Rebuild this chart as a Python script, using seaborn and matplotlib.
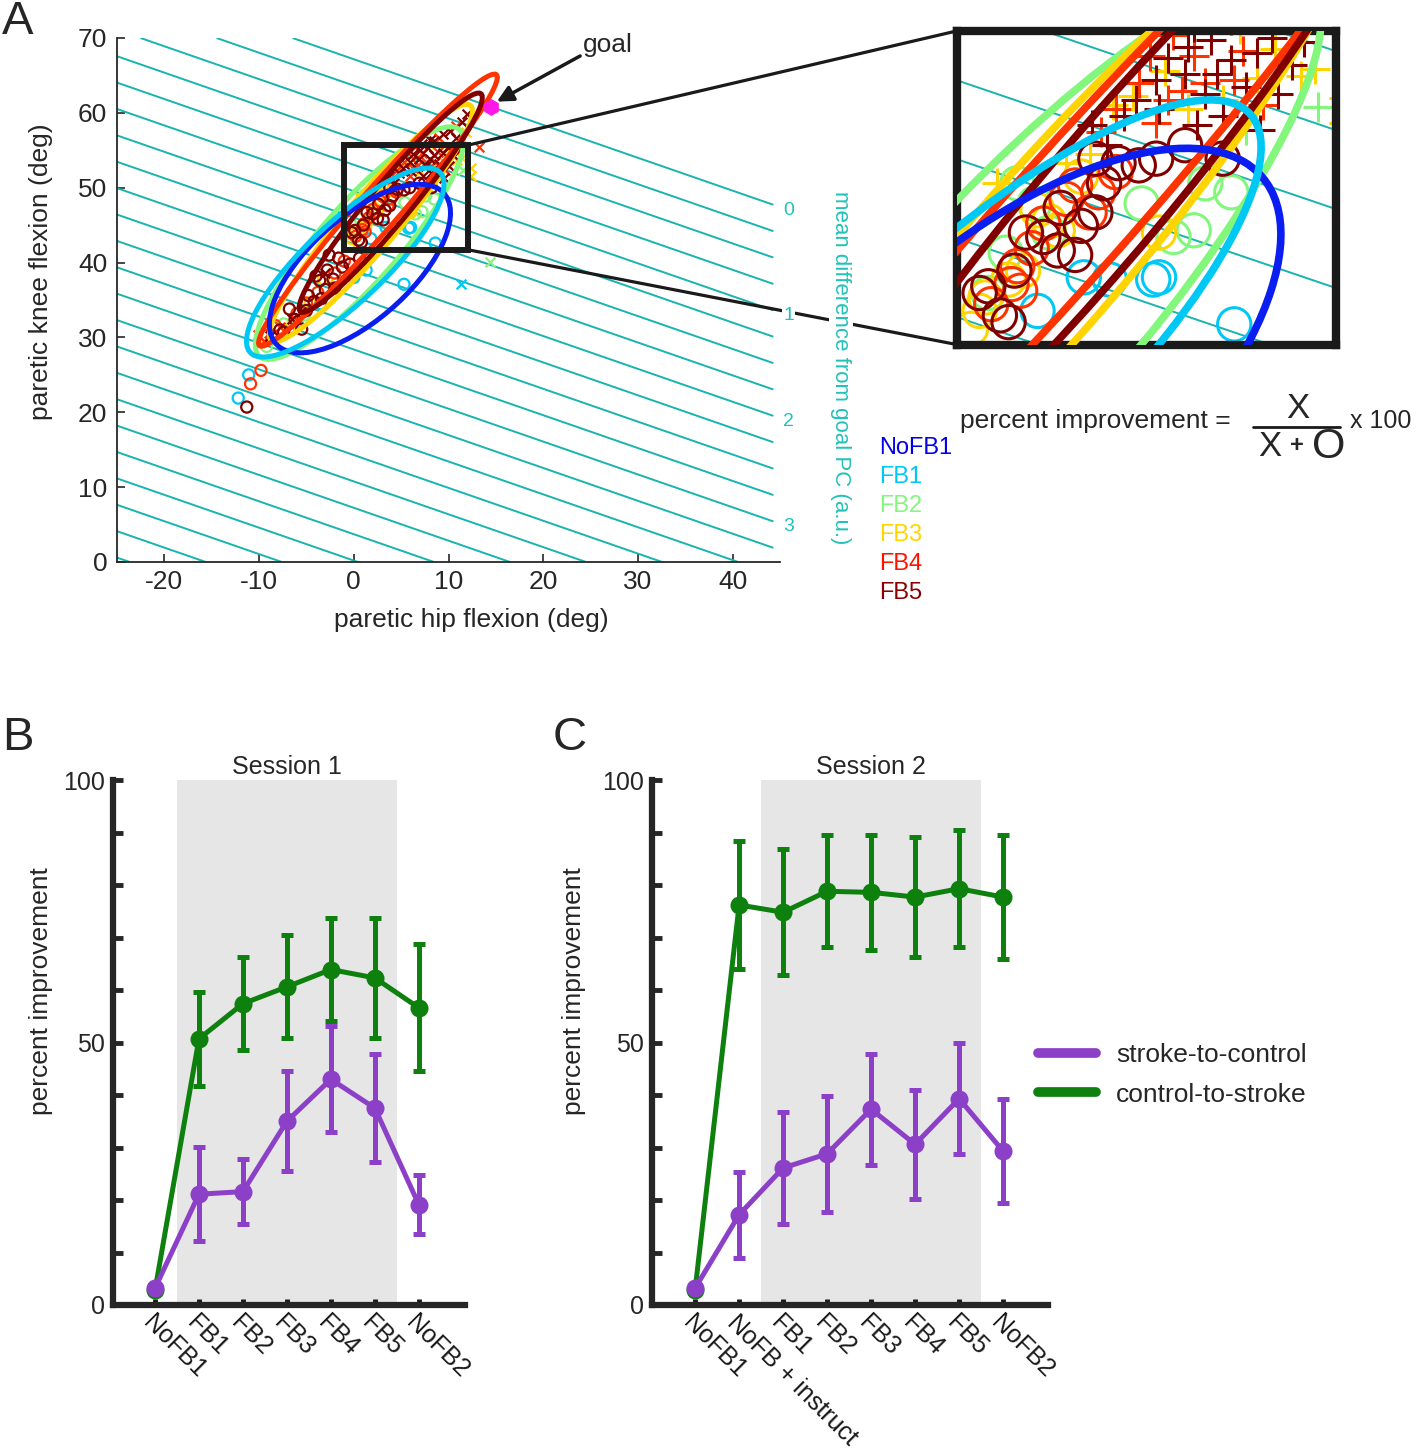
import numpy as np
import matplotlib
matplotlib.use("Agg")
import matplotlib.pyplot as plt
import seaborn as sns
from matplotlib.patches import Ellipse, Rectangle, ConnectionPatch
from matplotlib.lines import Line2D

# ---------------- Panel A data ----------------
cond_names = ['NoFB1', 'FB1', 'FB2', 'FB3', 'FB4', 'FB5']
cond_colors = ['#0A1EF2', '#00C8F5', '#82F77C', '#FFD400', '#FF3300', '#800000']
label_colors = ['#0000EE', '#00C8F5', '#82F77C', '#FFD400', '#FF1100', '#8B0000']

# covariance ellipses (hip, knee) per condition
ell_cx = [0.65, -0.9, 0.6, 1.8, 2.55, 3.9]
ell_cy = [39.2, 40.0, 42.6, 45.3, 47.0, 48.0]
ell_a = [13.5, 15.7, 18.5, 18.9, 22.0, 17.4]
ell_b = [6.0, 4.65, 4.5, 3.0, 2.3, 2.3]
ell_ang = [52, 51.5, 56, 56.5, 55.5, 57]

# O = missed steps, X = successful steps (hip, knee)
fails_nofb1 = []
hits_nofb1 = []
fails_fb1 = [(-12.2, 21.9), (-11.1, 25.0), (5.3, 37.1), (1.3, 39.0), (5.8, 44.6),
             (8.6, 42.6), (6.0, 44.7), (3.4, 44.7), (1.8, 43.2), (4.3, 44.6),
             (-6.0, 32.0), (-3.5, 34.5), (0.0, 38.0)]
hits_fb1 = [(11.3, 37.1)]
fails_fb2 = [(7.2, 46.8), (7.6, 48.9), (8.5, 48.5), (1.1, 48.9), (1.7, 48.0),
             (6.5, 46.5), (0.7, 45.8), (0.1, 44.0), (2.2, 46.7), (5.4, 48.0),
             (-7.4, 31.8), (-9.2, 28.8), (-5.2, 33.0)]
hits_fb2 = [(14.4, 40.1), (11.5, 52.3), (9.0, 51.3)]
fails_fb3 = [(-0.2, 43.2), (3.3, 49.2), (1.8, 47.7), (0.0, 43.8), (2.5, 46.8),
             (1.3, 45.0), (-6.8, 31.2), (-4.6, 34.6), (-1.8, 37.2), (6.0, 46.7),
             (0.8, 44.6), (2.2, 47.2), (-0.5, 42.4), (-3.2, 37.8)]
hits_fb3 = [(5.1, 52.8), (8.8, 55.8), (10.9, 53.7), (11.4, 54.0), (7.0, 52.2),
            (10.0, 54.9), (0.4, 48.9), (12.4, 52.7), (12.4, 51.6), (11.8, 57.4),
            (3.6, 50.2), (4.4, 52.4), (6.2, 53.9), (8.2, 52.6), (9.4, 53.6),
            (2.8, 49.8)]
fails_fb4 = [(1.1, 45.2), (2.0, 47.1), (3.1, 48.8), (4.5, 49.4), (0.2, 43.5),
             (1.2, 44.1), (3.9, 48.5), (-10.9, 23.8), (-9.8, 25.6), (-6.0, 33.2),
             (-3.8, 36.0), (-2.0, 38.6), (-8.3, 31.6), (1.6, 46.0), (2.8, 48.2),
             (0.9, 44.4), (3.6, 47.6), (-5.0, 34.6), (-1.0, 40.2)]
hits_fb4 = [(6.5, 55.5), (7.2, 54.6), (6.3, 52.6), (5.3, 53.4), (8.6, 53.5),
            (4.5, 52.2), (5.9, 51.6), (13.2, 55.5), (-9.5, 29.5), (-9.0, 30.6),
            (-8.6, 29.6), (-10.1, 30.3), (-7.8, 31.4), (9.0, 56.6), (10.8, 58.2),
            (5.7, 54.6), (7.6, 53.4), (8.9, 54.8), (4.0, 51.2), (6.8, 53.0),
            (9.6, 52.4)]
fails_fb5 = [(-0.2, 44.0), (0.8, 42.7), (1.4, 46.7), (2.0, 46.5), (3.1, 45.7),
             (3.8, 47.6), (3.8, 50.0), (4.6, 49.8), (5.3, 49.7), (5.9, 50.0),
             (6.9, 50.6), (8.2, 50.0), (4.1, 48.9), (2.5, 45.9), (0.1, 44.3),
             (-11.3, 20.7), (-7.4, 30.7), (-5.5, 31.1), (-4.2, 34.8), (-3.0, 36.4),
             (-2.2, 37.8), (-1.2, 39.4), (-3.6, 37.6), (-5.0, 33.6), (-2.8, 39.0),
             (1.0, 45.0), (2.6, 47.8), (3.3, 47.0), (0.5, 43.0), (-6.2, 32.4),
             (-4.8, 35.6), (-3.4, 35.2), (-2.0, 36.6), (-1.6, 40.6), (-0.4, 39.8),
             (-6.8, 33.8), (-7.8, 31.0), (-4.0, 38.2), (-2.6, 41.0), (0.6, 40.6)]
hits_fb5 = [(7.8, 55.3), (8.5, 54.4), (9.4, 54.7), (6.9, 53.8), (7.6, 52.9),
            (8.2, 51.9), (9.5, 51.3), (10.1, 52.9), (4.8, 51.9), (5.9, 53.5),
            (3.7, 51.5), (9.9, 55.4), (8.5, 56.2), (9.4, 57.2), (10.2, 57.6),
            (11.4, 58.8), (7.2, 55.9), (-8.8, 30.2), (-6.5, 32.5), (5.2, 52.6),
            (6.3, 54.5), (7.0, 55.0), (8.0, 53.8), (9.0, 53.2), (10.6, 54.2),
            (11.0, 55.2), (6.0, 52.2), (4.2, 50.6), (7.3, 51.5), (12.0, 59.8),
            (10.8, 56.6), (8.0, 56.4), (-5.6, 33.4), (-3.0, 38.6)]

fails_all = [fails_nofb1, fails_fb1, fails_fb2, fails_fb3, fails_fb4, fails_fb5]
hits_all = [hits_nofb1, hits_fb1, hits_fb2, hits_fb3, hits_fb4, hits_fb5]

goal_hip, goal_knee = 14.5, 60.8
pc_slope = 0.439     # knee deg per hip deg along an iso-PC line
pc_unit = 14.1       # knee deg per 1 a.u.
pc_levels = np.arange(0, 5.76, 0.25)
pc_labels = [0, 1, 2, 3]

# ---------------- Panels B / C data ----------------
s1_labels = ['NoFB1', 'FB1', 'FB2', 'FB3', 'FB4', 'FB5', 'NoFB2']
s1_stc = [3.2, 21.1, 21.6, 35.0, 43.0, 37.5, 19.1]
s1_stc_err = [0, 9.0, 6.2, 9.5, 10.1, 10.3, 5.6]
s1_cts = [2.8, 50.7, 57.4, 60.6, 63.9, 62.3, 56.6]
s1_cts_err = [0, 8.9, 8.8, 9.8, 9.8, 11.5, 12.1]

s2_labels = ['NoFB1', 'NoFB + instruct', 'FB1', 'FB2', 'FB3', 'FB4', 'FB5', 'NoFB2']
s2_stc = [3.2, 17.2, 26.1, 28.8, 37.3, 30.6, 39.3, 29.3]
s2_stc_err = [0, 8.2, 10.6, 11.0, 10.6, 10.4, 10.6, 9.9]
s2_cts = [2.9, 76.2, 74.8, 78.8, 78.6, 77.7, 79.3, 77.7]
s2_cts_err = [0, 12.2, 12.0, 10.7, 11.0, 11.5, 11.2, 11.8]

TEAL = '#19B4AE'
TEAL_TXT = '#22C2B8'
PURPLE = '#8C40C8'
GREEN = '#0E800E'
DARK = '#262626'

sns.set_theme(style='ticks')
plt.rcParams['font.family'] = ['Liberation Sans', 'DejaVu Sans']
plt.rcParams['axes.unicode_minus'] = False

W, H = 1418, 1455
fig = plt.figure(figsize=(W / 100, H / 100), dpi=100)


def px_rect(x0, y0, x1, y1):
    """Figure-fraction rect from pixel box (top-left origin)."""
    return [x0 / W, 1 - y1 / H, (x1 - x0) / W, (y1 - y0) / H]


def draw_contours(ax, hip_lim, knee_lim, lw):
    hh, kk = np.meshgrid(np.linspace(*hip_lim, 400), np.linspace(*knee_lim, 400))
    pc = (goal_knee - pc_slope * (hh - goal_hip) - kk) / pc_unit
    ax.contour(hh, kk, pc, levels=pc_levels, colors=TEAL, linewidths=lw, zorder=1)


def draw_points(ax, o_size, x_size, x_marker, lw):
    for color, fails, hits in zip(cond_colors, fails_all, hits_all):
        if fails:
            f = np.array(fails)
            ax.scatter(f[:, 0], f[:, 1], s=o_size ** 2, marker='o', facecolors='none',
                       edgecolors=color, linewidths=lw, zorder=2)
        if hits:
            h = np.array(hits)
            ax.scatter(h[:, 0], h[:, 1], s=x_size ** 2, marker=x_marker, c=color,
                       linewidths=lw, zorder=2)


def draw_ellipses(ax, lw):
    order = [2, 3, 4, 5, 0, 1]
    for z, i in enumerate(order):
        ax.add_patch(Ellipse((ell_cx[i], ell_cy[i]), 2 * ell_a[i], 2 * ell_b[i],
                             angle=ell_ang[i], fill=False, ec=cond_colors[i],
                             lw=lw, zorder=3 + z * 0.01))


# ---------------- Panel A ----------------
axA = fig.add_axes(px_rect(117, 38, 780, 562))
draw_contours(axA, (-25, 44.3), (0, 70), 1.4)
draw_points(axA, 8, 7, 'x', 1.6)
draw_ellipses(axA, 3.6)
axA.plot(goal_hip, goal_knee, marker='h', ms=11, color='#FF19E6', zorder=6)
axA.set_xlim(-25, 45)
axA.set_ylim(0, 70)
axA.set_xticks(range(-20, 41, 10))
axA.set_yticks(range(0, 71, 10))
sns.despine(ax=axA)
for s in ['left', 'bottom']:
    axA.spines[s].set_linewidth(1.3)
    axA.spines[s].set_color(DARK)
axA.tick_params(direction='in', length=6, width=1.2, labelsize=19, pad=6, colors=DARK)
axA.tick_params(axis='y', pad=7)

# zoom box and inset
box = Rectangle((-1, 41.7), 13.1, 14.0, fill=False, ec='k', lw=4.3, zorder=7)
axA.add_patch(box)

axI = fig.add_axes(px_rect(956.5, 31, 1335.5, 344.5))
draw_contours(axI, (-2, 13), (40, 57), 1.4)
draw_points(axI, 24, 22, '+', 2.2)
draw_ellipses(axI, 5.5)
axI.set_xlim(-1, 12.1)
axI.set_ylim(41.7, 55.7)
axI.set_xticks([])
axI.set_yticks([])
for s in axI.spines.values():
    s.set_linewidth(6)
    s.set_color('k')

for xyA, xyB in [((12.1, 55.7), (0, 1)), ((12.1, 41.7), (0, 0))]:
    con = ConnectionPatch(xyA=xyA, coordsA=axA.transData, xyB=xyB, coordsB=axI.transAxes,
                          color='k', lw=2.3, zorder=1)
    fig.add_artist(con)

# goal arrow
axA.annotate('', xy=(15.1, 61.5), xytext=(23.9, 67.6), annotation_clip=False,
             arrowprops=dict(arrowstyle='-|>', color='k', lw=2.5, mutation_scale=24,
                             shrinkA=0, shrinkB=0))
axA.text(24.2, 68.1, 'goal', fontsize=19, ha='left', va='baseline', clip_on=False)

# PC labels on the right
for lvl in pc_labels:
    kn = goal_knee - pc_slope * (45.9 - goal_hip) - pc_unit * lvl
    fig.text(45.9, kn, str(lvl), transform=axA.transData, color=TEAL_TXT, fontsize=14,
             ha='center', va='center', zorder=5,
             bbox=dict(fc='white', ec='none', pad=1))
fig.text(841 / W, 1 - 368 / H, 'mean difference from goal PC (a.u.)', rotation=-90,
         color=TEAL_TXT, fontsize=16, ha='center', va='center', zorder=5,
         bbox=dict(fc='white', ec='none', pad=1))

fig.text(41 / W, 1 - 272 / H, 'paretic knee flexion (deg)', rotation=90, fontsize=19,
         ha='center', va='center', color=DARK)
fig.text(471 / W, 1 - 620 / H, 'paretic hip flexion (deg)', fontsize=19,
         ha='center', va='center', color=DARK)

# condition legend
for i, name in enumerate(cond_names):
    fig.text(879 / W, 1 - (448 + 29 * i) / H, name, color=label_colors[i], fontsize=17,
             ha='left', va='center')

# percent improvement formula
fig.text(960 / W, 1 - 421 / H, 'percent improvement =', fontsize=19, ha='left', va='center')
fig.text(1298 / W, 1 - 409 / H, 'X', fontsize=25, ha='center', va='center')
fig.add_artist(Line2D([1253 / W, 1340 / W], [1 - 427 / H, 1 - 427 / H], color='k', lw=2))
fig.text(1270 / W, 1 - 447 / H, 'X', fontsize=25, ha='center', va='center')
fig.text(1297 / W, 1 - 446 / H, '+', fontsize=17, fontweight='bold', ha='center', va='center')
fig.text(1329 / W, 1 - 447 / H, 'O', fontsize=31, ha='center', va='center')
fig.text(1350 / W, 1 - 421 / H, 'x 100', fontsize=18, ha='left', va='center')


# ---------------- Panels B / C ----------------
def session_panel(ax, labels, stc, stc_err, cts, cts_err, fb_span, xlim, title):
    pos = np.arange(1, len(labels) + 1)
    ax.axvspan(fb_span[0], fb_span[1], color='#E6E6E6', lw=0, zorder=0)
    for vals, errs, col in [(cts, cts_err, GREEN), (stc, stc_err, PURPLE)]:
        ax.errorbar(pos, vals, yerr=errs, fmt='none', ecolor=col, elinewidth=3.6,
                    capsize=4.5, capthick=3.6, zorder=3)
        sns.lineplot(x=pos, y=vals, color=col, linewidth=3.6, marker='o', markersize=13,
                     markeredgecolor=col, markeredgewidth=0, ax=ax, zorder=4)
    ax.set_xlim(*xlim)
    ax.set_ylim(0, 100)
    ax.set_yticks([0, 50, 100])
    ax.set_yticks(range(0, 101, 10), minor=True)
    ax.set_xticks(pos)
    ax.set_xticklabels(labels, rotation=-45, ha='left', va='top', rotation_mode='anchor')
    sns.despine(ax=ax)
    for s in ['left', 'bottom']:
        ax.spines[s].set_linewidth(4.5)
        ax.spines[s].set_color(DARK)
    ax.tick_params(axis='y', which='both', direction='in', length=7, width=3.5,
                   colors=DARK, labelsize=18, pad=6)
    ax.tick_params(axis='x', direction='in', length=4, width=3.5, colors='k',
                   labelsize=18, pad=4)
    ax.text(np.mean(fb_span), 101.2, title, fontsize=18, ha='center', va='baseline')
    ax.set_xlabel('')
    ax.set_ylabel('')


axB = fig.add_axes(px_rect(113, 780, 465, 1305))
session_panel(axB, s1_labels, s1_stc, s1_stc_err, s1_cts, s1_cts_err,
              (1.5, 6.5), (0.045, 8.05), 'Session 1')
axC = fig.add_axes(px_rect(652, 780, 1048, 1305))
session_panel(axC, s2_labels, s2_stc, s2_stc_err, s2_cts, s2_cts_err,
              (2.5, 7.5), (0.02, 9.02), 'Session 2')

fig.text(41 / W, 1 - 991 / H, 'percent improvement', rotation=90, fontsize=19,
         ha='center', va='center', color=DARK)
fig.text(574 / W, 1 - 991 / H, 'percent improvement', rotation=90, fontsize=19,
         ha='center', va='center', color=DARK)

handles = [Line2D([], [], color=PURPLE, lw=7), Line2D([], [], color=GREEN, lw=7)]
fig.legend(handles, ['stroke-to-control', 'control-to-stroke'], loc='center left',
           bbox_to_anchor=(1038 / W, 1 - 1075 / H), frameon=False, fontsize=19,
           handlelength=2.2, handletextpad=0.75, labelspacing=0.58,
           borderaxespad=0, borderpad=0)

# panel letters
fig.text(2 / W, 1 - 34 / H, 'A', fontsize=34, ha='left', va='baseline')
fig.text(2 / W, 1 - 750 / H, 'B', fontsize=34, ha='left', va='baseline')
fig.text(553 / W, 1 - 750 / H, 'C', fontsize=34, ha='left', va='baseline')

fig.savefig('out.png', dpi=100)
